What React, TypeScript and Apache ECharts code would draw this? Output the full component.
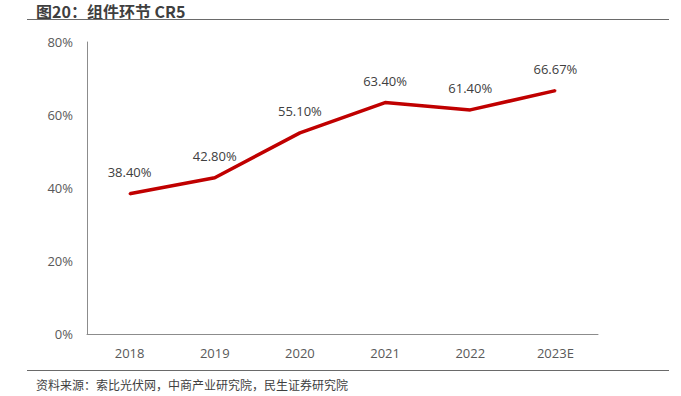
import React, { useEffect, useRef } from "react";
import * as echarts from "echarts";

const categories = ["2018", "2019", "2020", "2021", "2022", "2023E"];
const cr5Values = [38.4, 42.8, 55.1, 63.4, 61.4, 66.67];
const yTicks = [0, 20, 40, 60, 80];
const titleText = "图20：组件环节 CR5";
const sourceText = "资料来源：索比光伏网，中商产业研究院，民生证券研究院";

const numFont = "'Open Sans', 'Noto Sans', sans-serif";
const cjkFont = "'Noto Sans CJK SC', sans-serif";

export default function App() {
  const ref = useRef<HTMLDivElement>(null);
  useEffect(() => {
    if (!ref.current) return;
    const chart = echarts.init(ref.current, undefined, { renderer: "svg" });
    chart.setOption({
      animation: false,
      backgroundColor: "#ffffff",
      grid: { left: 87, right: 83, top: 42, bottom: 62, containLabel: false },
      xAxis: {
        type: "category",
        data: categories,
        boundaryGap: true,
        axisLine: { lineStyle: { color: "#8c8c8c", width: 1 } },
        axisTick: { show: false },
        axisLabel: { color: "#595959", fontSize: 13, fontFamily: numFont, margin: 12 },
      },
      yAxis: {
        type: "value",
        min: yTicks[0],
        max: yTicks[yTicks.length - 1],
        interval: 20,
        axisLine: { show: true, lineStyle: { color: "#8c8c8c", width: 1 } },
        axisTick: { show: false },
        splitLine: { show: false },
        axisLabel: {
          color: "#595959",
          fontSize: 13,
          fontFamily: numFont,
          margin: 14,
          formatter: (v: number) => `${v}%`,
        },
      },
      series: [
        {
          type: "line",
          data: cr5Values,
          symbol: "circle",
          symbolSize: 2,
          showSymbol: true,
          lineStyle: { color: "#C00000", width: 3.5 },
          itemStyle: { color: "#C00000" },
          label: {
            show: true,
            position: "top",
            distance: 14,
            color: "#404040",
            fontSize: 13,
            fontFamily: numFont,
            formatter: (p: any) => `${Number(p.value).toFixed(2)}%`,
          },
        },
      ],
      graphic: [
        {
          type: "text",
          left: 36,
          top: 3,
          style: { text: titleText, font: `bold 16px ${cjkFont}`, fill: "#3f3f3f" },
        },
        {
          type: "line",
          shape: { x1: 27, y1: 19.5, x2: 669, y2: 19.5 },
          style: { stroke: "#6a6a6a", lineWidth: 1.2 },
        },
        {
          type: "line",
          shape: { x1: 27, y1: 370.5, x2: 669, y2: 370.5 },
          style: { stroke: "#6a6a6a", lineWidth: 1 },
        },
        {
          type: "text",
          left: 36,
          top: 378,
          style: { text: sourceText, font: `12px ${cjkFont}`, fill: "#3f3f3f" },
        },
      ],
    });
    return () => chart.dispose();
  }, []);
  return <div ref={ref} style={{ width: 681, height: 396, position: "absolute", left: 0, top: 0 }} />;
}
